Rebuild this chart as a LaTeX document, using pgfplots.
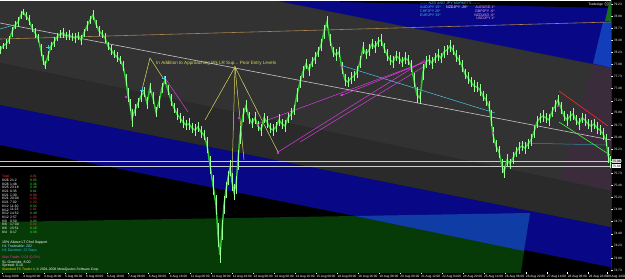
\documentclass[border=0pt]{standalone}
\usepackage{pgfplots}
\pgfplotsset{compat=1.18}
\usepackage{fontspec}
\setmainfont{Liberation Sans}
\definecolor{bgA}{RGB}{50,50,50}
\definecolor{bgB}{RGB}{42,42,42}
\definecolor{dblue}{RGB}{8,8,135}
\definecolor{lblue}{RGB}{18,62,185}
\definecolor{mblue}{RGB}{16,60,165}
\definecolor{dgreen}{RGB}{6,58,6}
\definecolor{sgreen}{RGB}{25,110,30}
\definecolor{purp}{RGB}{58,44,58}
\definecolor{tanl}{RGB}{165,130,80}
\definecolor{candle}{RGB}{45,200,45}
\definecolor{wick}{RGB}{150,255,150}
\definecolor{khaki}{RGB}{215,215,90}
\definecolor{mag}{RGB}{220,60,220}
\definecolor{cyanl}{RGB}{70,200,225}
\definecolor{pinkl}{RGB}{255,175,215}
\definecolor{valg}{RGB}{60,230,60}
\definecolor{valr}{RGB}{255,50,50}
\newcommand{\fs}[1]{\fontsize{#1}{#1}\selectfont}
\newcommand{\acrow}[5]{%
  \node[anchor=west, inner sep=0, text=white, font=\fs{3.4}] at (axis cs:2,#1) {#2};
  \node[anchor=west, inner sep=0, text=white, font=\fs{3.4}] at (axis cs:10,#1) {#3};
  \node[anchor=east, inner sep=0, text=#5, font=\fs{3.4}] at (axis cs:37,#1) {#4};}
\begin{document}
\begin{tikzpicture}
\useasboundingbox (0,0) rectangle (625bp,279bp);
\fill[black] (0,0) rectangle (625bp,279bp);
\begin{axis}[
  at={(0bp,7bp)}, anchor=south west,
  width=611bp, height=272bp, scale only axis,
  xmin=0, xmax=611, ymin=0, ymax=272, y dir=reverse,
  enlargelimits=false,
  axis background/.style={fill=black},
  axis line style={draw=none},
  xtick pos=left, ytick pos=right, xticklabel pos=left, yticklabel pos=right,
  tick align=outside, major tick length=2bp,
  tick style={white, line width=0.4bp},
  ticklabel style={font=\fs{3.2}, text=white, inner sep=0.6bp},
  xticklabel style={anchor=north west, xshift=-0.5bp},
  yticklabel style={anchor=west},
  xtick={2,22.95,43.9,64.85,85.8,106.75,127.7,148.65,169.6,190.55,211.5,232.45,253.4,274.35,295.3,316.25,337.2,358.15,379.1,400.05,421,441.95,462.9,483.85,504.8,525.75,546.7,567.65,588.6,607},
  xticklabels={1 Aug 2008,4 Aug 00:00,4 Aug 16:00,5 Aug 08:00,6 Aug 00:00,6 Aug 16:00,7 Aug 08:00,8 Aug 00:00,8 Aug 16:00,11 Aug 08:00,12 Aug 00:00,12 Aug 16:00,13 Aug 08:00,14 Aug 00:00,14 Aug 16:00,15 Aug 08:00,18 Aug 00:00,18 Aug 16:00,19 Aug 08:00,20 Aug 00:00,21 Aug 12:00,22 Aug 04:00,24 Aug 20:00,25 Aug 14:00,26 Aug 06:00,26 Aug 22:00,27 Aug 14:00,28 Aug 06:00,28 Aug 22:00,29 Aug 14:00},
  ytick={4,16.09,28.18,40.27,52.36,64.45,76.55,88.64,100.73,112.82,124.91,137,149.09,161.18,173.27,185.36,197.45,209.55,221.64,233.73,245.82,257.91,270},
  yticklabels={79.23,78.98,78.73,78.48,78.23,77.98,77.73,77.48,77.23,76.98,76.73,76.48,76.23,75.98,75.73,75.48,75.23,74.98,74.73,74.48,74.23,73.98,73.73},
]
% background channels
\addplot[fill=bgA, draw=none] coordinates {(0,-80) (611,-80) (611,227.2) (0,105)} -- cycle;
\addplot[fill=bgB, draw=none] coordinates {(0,63) (611,191) (611,227.2) (0,105)} -- cycle;
\addplot[fill=purp, draw=none] coordinates {(593,63) (611,67) (611,191) (560,180)} -- cycle;
\addplot[fill=dblue, draw=none] coordinates {(150,-60) (611,-60) (611,67.6) (150,-24.5)} -- cycle;
\addplot[fill=black, draw=none] coordinates {(340,-5) (611,-5) (611,8) (340,2)} -- cycle;
\addplot[fill=lblue, draw=none] coordinates {(603,22) (611,22) (611,67.6) (593,63.5)} -- cycle;
\addplot[fill=sgreen, draw=none] coordinates {(611,-5) (611,21) (605,21)} -- cycle;
\addplot[fill=dgreen, draw=none] coordinates {(0,222) (530,213) (519,285) (0,285)} -- cycle;
\addplot[fill=dblue, draw=none] coordinates {(0,105) (611,227.2) (611,267.2) (0,145)} -- cycle;
\addplot[fill=mblue, draw=none] coordinates {(355,216) (530,213) (524,251)} -- cycle;
% channel lines
\addplot[color=black!85, line width=0.5bp, densely dashed] coordinates {(0,63) (611,191)};
\addplot[color=tanl, line width=0.6bp] coordinates {(0,39) (611,22)};
\addplot[color=white!78!black, line width=0.6bp] coordinates {(0,23) (611,140)};
\addplot[color=white!80!black, line width=0.5bp] coordinates {(0,161) (611,161)};
\addplot[color=white!80!black, line width=0.5bp] coordinates {(0,166) (611,166)};
% annotation lines
\addplot[color=cyanl, line width=0.5bp] coordinates {(0,29) (14,25)};
\addplot[color=cyanl, line width=0.5bp] coordinates {(340,65) (495,113)};
\addplot[color=cyanl!70!black, line width=0.5bp] coordinates {(520,143) (607,145)};
\addplot[color=khaki, line width=0.5bp] coordinates {(142,90) (150,58) (163,78)};
\addplot[color=khaki, line width=0.5bp] coordinates {(205,120) (235,67) (232,175)};
\addplot[color=khaki, line width=0.5bp] coordinates {(244,160) (235,67) (278,152)};
\addplot[color=mag, line width=0.5bp] coordinates {(165,78) (188,112)};
\addplot[color=mag, line width=0.5bp] coordinates {(278,152) (425,60)};
\addplot[color=mag, line width=0.5bp] coordinates {(257,124) (425,62)};
\addplot[color=mag, line width=0.5bp] coordinates {(300,142) (425,66)};
\addplot[color=mag, line width=0.5bp] coordinates {(340,96) (425,62)};
\addplot[color=red!85!white, line width=0.6bp] coordinates {(559,91) (608,126)};
\addplot[color=green!80!white, line width=0.6bp] coordinates {(559,122) (610,155)};
% price
\addplot[color=candle, line width=1.5bp, mark=none,
  error bars/.cd, y dir=both, y explicit, error mark=none,
  error bar style={wick, line width=0.7bp}]
  table[x=x, y=y, y error=e] {
x y e
0 50 4
3 46 3
6 44 5
9 40 4
12 32 5
15 25 4
18 22 5
21 15 4
23 12 3
26 16 4
29 20 5
32 28 4
35 33 5
38 38 4
41 50 6
43 60 5
45 65 4
48 56 5
51 46 4
54 42 5
57 37 4
60 34 4
63 33 5
66 36 4
69 35 5
72 37 4
75 38 5
78 36 4
81 40 5
84 33 4
87 26 5
90 20 4
93 15 5
96 24 4
99 31 5
102 34 4
105 38 5
108 46 4
111 50 5
114 54 4
117 57 5
120 60 4
123 66 5
126 80 6
128 95 7
130 105 6
132 118 9
135 110 6
138 103 5
141 96 6
144 92 5
147 103 6
150 88 5
153 98 6
156 112 5
159 102 6
162 88 5
165 80 4
168 90 5
171 100 6
174 108 5
177 114 6
180 118 5
183 122 6
186 125 5
189 124 6
192 128 5
195 130 6
198 127 5
201 132 6
204 135 5
207 145 8
210 165 9
213 185 10
216 205 10
218 235 12
220 255 8
222 230 10
224 205 9
226 190 8
228 178 7
230 168 8
232 182 9
234 192 8
236 185 9
238 160 10
240 135 9
243 115 7
246 106 6
249 118 6
252 123 5
255 118 6
258 126 5
261 130 6
264 118 5
267 122 6
270 128 5
273 130 6
276 127 5
279 120 6
282 124 5
285 126 6
288 118 5
291 114 6
294 110 5
297 95 7
300 82 6
303 72 6
306 64 5
309 70 6
312 62 5
315 58 6
318 52 5
321 45 6
324 32 7
327 22 6
330 40 6
333 52 5
336 55 6
339 52 5
342 68 6
345 80 6
348 82 5
351 78 6
354 76 5
357 72 6
360 62 6
363 48 6
366 54 5
369 50 6
372 44 5
375 47 6
378 42 5
381 40 6
384 48 5
387 55 6
390 60 5
393 62 6
396 56 5
399 58 6
402 62 5
405 58 6
408 60 5
411 66 6
414 80 7
417 95 8
420 98 6
423 72 8
426 62 6
429 60 5
432 63 6
435 58 5
438 55 6
441 58 5
444 52 6
447 50 5
450 46 6
453 50 5
456 56 6
459 60 5
462 66 6
465 74 5
468 78 6
471 82 5
474 86 6
477 87 5
480 90 6
483 96 5
486 100 6
489 106 5
491 118 8
493 135 8
496 146 6
499 152 6
502 166 7
504 172 6
507 160 6
510 164 5
513 158 6
516 152 5
519 148 6
522 146 5
525 148 6
528 144 5
531 140 6
534 132 6
537 122 6
540 118 5
543 116 6
546 118 5
549 120 6
552 112 5
555 106 6
558 100 5
561 108 6
564 116 5
567 120 6
570 116 5
573 114 6
576 120 5
579 124 6
582 118 5
585 120 6
588 124 5
591 126 6
594 124 5
597 128 6
600 130 5
603 134 6
606 140 6
608 155 8
610 162 6
};
% markers
\addplot[only marks, mark=x, mark size=1.4bp, color=mag, mark options={line width=0.5bp}]
  coordinates {(126,97) (239,118) (258,125) (278,153) (342,67) (342,95) (493,133) (558,106)};
\addplot[only marks, mark=+, mark size=1.6bp, color=cyanl, mark options={line width=0.5bp}]
  coordinates {(48,47) (142,90) (164,78)};
% texts
\node[anchor=west, inner sep=0, text=khaki, font=\fs{4.6}] at (axis cs:156,63) {In Addition to Approaching Wk LR Sup... Poor Entry Levels};
\node[anchor=west, inner sep=0, text=cyanl, font=\fs{3.7}] at (axis cs:420,3.3) {------ NZD AND JPY MARKETS ------};
\node[anchor=west, inner sep=0, text=cyanl, font=\fs{3.6}] at (axis cs:420,7.3) {AUDJPY 15*};
\node[anchor=west, inner sep=0, text=white, font=\fs{3.6}] at (axis cs:446,7.3) {NZDJPY -26*};
\node[anchor=east, inner sep=0, text=pinkl, font=\fs{3.6}] at (axis cs:495,7.3) {AUDUSD 1*};
\node[anchor=west, inner sep=0, text=cyanl, font=\fs{3.6}] at (axis cs:420,11.1) {CHFJPY 26*};
\node[anchor=east, inner sep=0, text=pinkl, font=\fs{3.6}] at (axis cs:495,11.1) {GBPJPY -6*};
\node[anchor=west, inner sep=0, text=cyanl, font=\fs{3.6}] at (axis cs:420,14.9) {EURJPY 33*};
\node[anchor=east, inner sep=0, text=pinkl, font=\fs{3.6}] at (axis cs:495,14.9) {NZDUSD -6*};
\node[anchor=east, inner sep=0, text=pinkl, font=\fs{3.6}] at (axis cs:495,18.7) {USDJPY 1*};
\node[anchor=east, inner sep=0.4bp, text=white, font=\fs{3.4}] at (axis cs:610,4) {TradeAge $\otimes$};
% left account block
\node[anchor=west, inner sep=0, text=valr, font=\fs{3.4}] at (axis cs:2,176.5) {Total};
\node[anchor=east, inner sep=0, text=valr, font=\fs{3.4}] at (axis cs:37,176.5) {-4.81};
\acrow{180.2}{8/26}{21:2}{0.05}{valg}
\acrow{183.9}{8/26}{1:48}{0.36}{valg}
\acrow{187.6}{8/25}{23:18}{0.38}{valg}
\acrow{191.3}{8/21}{0:35}{0.81}{valg}
\acrow{195.0}{8/21}{1:30}{-0.88}{valr}
\acrow{198.7}{8/21}{20:00}{-1.00}{valr}
\acrow{202.4}{8/21}{7:02}{-1.20}{valr}
\acrow{206.1}{8/12}{11:30}{0.54}{valg}
\acrow{209.8}{8/12}{11:23}{-1.61}{valr}
\acrow{213.5}{8/12}{14:52}{0.49}{valg}
\acrow{217.2}{8/12}{2:57}{-1.00}{valr}
\acrow{220.9}{8/8}{0:59}{0.05}{valg}
\acrow{224.6}{8/6}{17:30}{-0.01}{valr}
\acrow{228.3}{8/6}{15:51}{0.18}{valg}
\acrow{232.0}{8/4}{0:17}{0.58}{valg}
\node[anchor=west, inner sep=0, text=white, font=\fs{3.6}] at (axis cs:2,242.5) {10\% Above LT Chnl Support};
\node[anchor=west, inner sep=0, text=cyan!40!white, font=\fs{3.6}] at (axis cs:2,246.5) {H1 Tradeable: 202};
\node[anchor=west, inner sep=0, text=cyan!80!white, font=\fs{3.6}] at (axis cs:2,250.5) {H1 Duration: 27 Days};
\node[anchor=west, inner sep=0, text=magenta!80!white, font=\fs{3.6}] at (axis cs:2,258) {Max Trade: 0.01 (0.0\%)};
\node[anchor=west, inner sep=0, text=white, font=\fs{3.6}] at (axis cs:2,262) {SL Override: 8.00};
\node[anchor=west, inner sep=0, text=white, font=\fs{3.6}] at (axis cs:2,266) {Spread: 0.10};
\node[anchor=west, inner sep=0, text=white, font=\fs{3.4}] at (axis cs:2,270) {\textcolor{yellow!80!orange}{Standard FX Trader 4}, © 2001-2008 MetaQuotes Software Corp.};
\draw[white, line width=0.5bp] (rel axis cs:0,1) -- (rel axis cs:1,1) -- (rel axis cs:1,0);
\end{axis}
\node[anchor=west, fill=white!85!black, text=black, inner sep=0.4bp, font=\fs{3.2}] at (612bp,118bp) {75.98};
\node[anchor=west, fill=white, text=black, inner sep=0.4bp, font=\fs{3.2}] at (612bp,113bp) {75.88};
\end{tikzpicture}
\end{document}
